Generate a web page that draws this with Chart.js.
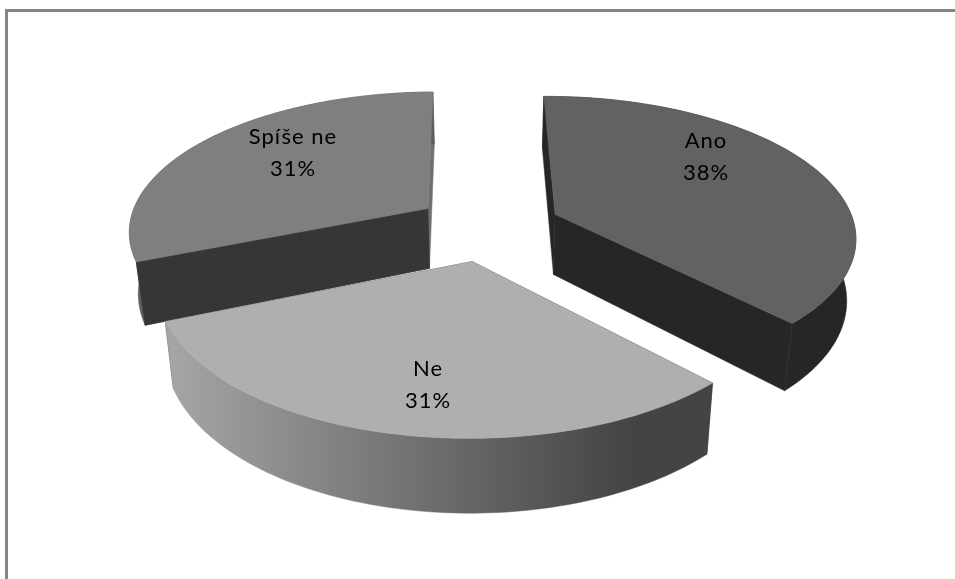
<!DOCTYPE html>
<html>
<head>
<meta charset="utf-8">
<title>Ano / Ne / Spíše ne</title>
<script src="https://cdn.jsdelivr.net/npm/chart.js@4/dist/chart.umd.min.js"></script>
<style>
  html, body { margin: 0; padding: 0; background: #fff; overflow: hidden; }
  #frame { position: absolute; left: 5px; top: 9px; width: 950px; height: 570px;
           border-left: 3px solid #868686; border-top: 3px solid #868686; box-sizing: border-box; }
  canvas { position: absolute; left: 0; top: 0; }
</style>
</head>
<body>
<div id="frame"></div>
<canvas id="pie" width="955" height="579"></canvas>
<script>
const categories = ['Ano', 'Ne', 'Spíše ne'];
const values = [38, 31, 31];

const topColors = ['#626262', '#afafaf', '#7f7f7f'];
const edgeColors = ['#262626', '#444444', '#363636'];

// perspective of the disc: x/y grow toward the viewer, z is the thickness
const view = { cx: 488, cy: 227, rx: 300, ry: 139, k: 0.149, depth: 61, shrink: 0.025, explode: 0.245 };

function project(X, Y, z) {
    const w = 1 - view.k * Y;
    return [
        view.cx + view.rx * X * (1 - view.shrink * z) / w,
        view.cy + (view.ry * Y + view.depth * z) / w
    ];
}

function sliceGeometry(arc) {
    const mid = (arc.startAngle + arc.endAngle) / 2;
    return {
        ox: Math.cos(mid) * view.explode,
        oy: Math.sin(mid) * view.explode,
        start: arc.startAngle,
        end: arc.endAngle
    };
}

function rimPoints(g, z, reverse) {
    const pts = [];
    const steps = 80;
    for (let i = 0; i <= steps; i++) {
        const t = reverse ? 1 - i / steps : i / steps;
        const a = g.start + (g.end - g.start) * t;
        pts.push(project(g.ox + Math.cos(a), g.oy + Math.sin(a), z));
    }
    return pts;
}

function fillPoly(ctx, pts, style) {
    ctx.beginPath();
    pts.forEach((p, i) => i ? ctx.lineTo(p[0], p[1]) : ctx.moveTo(p[0], p[1]));
    ctx.closePath();
    ctx.fillStyle = style;
    ctx.strokeStyle = style;
    ctx.lineWidth = 0.5;
    ctx.fill();
    ctx.stroke();
}

function drawSlice(ctx, arc, i) {
    const g = sliceGeometry(arc);
    const apexTop = project(g.ox, g.oy, 0);
    const apexBottom = project(g.ox, g.oy, 1);
    const topRim = rimPoints(g, 0, false);
    const bottomRim = rimPoints(g, 1, true);

    // side walls along the two straight edges
    fillPoly(ctx, [apexTop, topRim[0], bottomRim[bottomRim.length - 1], apexBottom], edgeColors[i]);
    fillPoly(ctx, [apexTop, topRim[topRim.length - 1], bottomRim[0], apexBottom], i === 2 ? '#6f6f6f' : edgeColors[i]);

    // curved outer wall, the front slice gets the light-to-dark shading
    let rimStyle = edgeColors[i];
    if (i === 1) {
        const xs = topRim.map(p => p[0]);
        const grad = ctx.createLinearGradient(Math.min(...xs), 0, Math.max(...xs), 0);
        grad.addColorStop(0, '#a6a6a6');
        grad.addColorStop(0.5, '#6c6c6c');
        grad.addColorStop(0.85, '#444444');
        grad.addColorStop(1, '#444444');
        rimStyle = grad;
    } else if (i === 2) {
        rimStyle = '#5e5e5e';
    }
    fillPoly(ctx, topRim.concat(bottomRim), rimStyle);

    // the inner wall of the left slice still faces the viewer over its rim
    if (i === 2) {
        fillPoly(ctx, [apexTop, topRim[0], bottomRim[bottomRim.length - 1], apexBottom], edgeColors[i]);
    }

    // top face
    fillPoly(ctx, [apexTop].concat(topRim), arc.options.backgroundColor);
}

const labelSpots = [[706, 157], [428, 385], [293, 153]];

const pie3d = {
    id: 'pie3d',
    beforeDatasetDraw(chart) {
        const ctx = chart.ctx;
        const arcs = chart.getDatasetMeta(0).data;
        ctx.save();
        // back slices first, the front one last
        [2, 0, 1].forEach(i => drawSlice(ctx, arcs[i], i));
        ctx.fillStyle = '#000';
        ctx.font = '22px Lato, "Open Sans", sans-serif';
        ctx.letterSpacing = '1px';
        ctx.textAlign = 'center';
        ctx.textBaseline = 'middle';
        categories.forEach((name, i) => {
            ctx.fillText(name, labelSpots[i][0], labelSpots[i][1] - 16);
            ctx.fillText(values[i] + '%', labelSpots[i][0], labelSpots[i][1] + 16);
        });
        ctx.restore();
        return false;
    }
};

new Chart(document.getElementById('pie').getContext('2d'), {
    type: 'pie',
    data: {
        labels: categories,
        datasets: [{ data: values, backgroundColor: topColors, borderWidth: 0 }]
    },
    options: {
        responsive: false,
        animation: false,
        rotation: -0.6,
        plugins: { legend: { display: false }, tooltip: { enabled: false } }
    },
    plugins: [pie3d]
});
</script>
</body>
</html>
